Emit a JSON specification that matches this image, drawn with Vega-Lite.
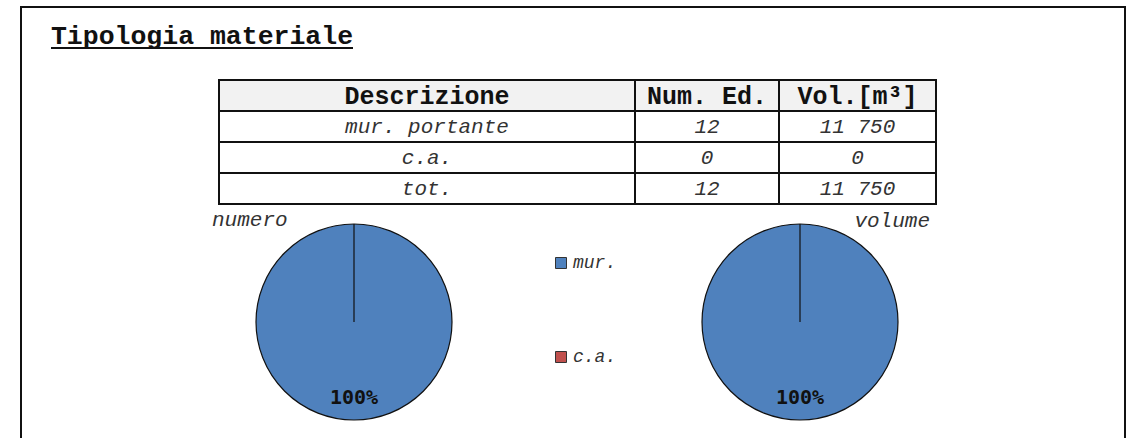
{
  "$schema": "https://vega.github.io/schema/vega-lite/v6.json",
  "padding": {"left": 20, "top": 6, "right": 3, "bottom": 0},
  "background": "white",
  "datasets": {
    "tabella": [
      {"descrizione": "mur. portante", "num": 12, "vol": 11750},
      {"descrizione": "c.a.", "num": 0, "vol": 0},
      {"descrizione": "tot.", "num": 12, "vol": 11750}
    ],
    "torta": [
      {"grafico": "numero", "tipo": "mur.", "valore": 12, "quota": 1},
      {"grafico": "numero", "tipo": "c.a.", "valore": 0, "quota": 0},
      {"grafico": "volume", "tipo": "mur.", "valore": 11750, "quota": 1},
      {"grafico": "volume", "tipo": "c.a.", "valore": 0, "quota": 0}
    ]
  },
  "spacing": 0,
  "resolve": {"scale": {"color": "independent", "theta": "independent"}, "legend": {"color": "independent"}},
  "hconcat": [
    {"width": 2, "height": 432, "data": {"values": [{}]}, "mark": {"type": "rect", "color": "#111"}},
    {
      "spacing": 0,
      "resolve": {"scale": {"color": "independent", "theta": "independent"}, "legend": {"color": "independent"}},
      "vconcat": [
        {"width": 1102, "height": 2, "data": {"values": [{}]}, "mark": {"type": "rect", "color": "#111"}},
        {
          "spacing": 0,
          "hconcat": [
            {"width": 28, "height": 71, "data": {"values": []}, "mark": "rect"},
            {
              "spacing": 0,
              "bounds": "flush",
              "vconcat": [
                {"width": 302, "height": 39, "data": {"values": [{}]},
                 "mark": {"type": "text", "text": "Tipologia materiale", "font": "Liberation Mono", "fontWeight": "bold", "fontSize": 26.5, "baseline": "alphabetic", "dy": 16.5, "color": "#111"}},
                {"width": 302, "height": 2, "data": {"values": [{}]}, "mark": {"type": "rect", "color": "#111"}}
              ]
            }
          ]
        },
        {
          "spacing": 0,
          "bounds": "flush",
          "hconcat": [
            {"width": 197, "height": 126, "data": {"values": []}, "mark": "rect"},
            {
              "width": 416, "height": 124,
              "data": {"name": "tabella"},
              "encoding": {"y": {"field": "descrizione", "type": "nominal", "axis": null, "scale": {"domain": ["intestazione", "mur. portante", "c.a.", "tot."], "paddingInner": 0, "paddingOuter": 0}}},
              "layer": [
                {"mark": {"type": "rect", "fill": "white", "stroke": "#111", "strokeWidth": 2}},
                {"data": {"values": [{}]}, "mark": {"type": "rect", "fill": "#f2f2f2", "stroke": "#111", "strokeWidth": 2}, "encoding": {"y": {"datum": "intestazione", "type": "nominal"}}},
                {"mark": {"type": "text", "font": "Liberation Mono", "fontStyle": "italic", "fontSize": 21, "color": "#333"}, "encoding": {"text": {"field": "descrizione"}}},
                {"data": {"values": [{}]}, "mark": {"type": "text", "text": "Descrizione", "font": "Liberation Mono", "fontWeight": "bold", "fontSize": 25, "color": "#111"}, "encoding": {"y": {"datum": "intestazione", "type": "nominal"}}}
              ]
            },
            {
              "width": 144, "height": 124,
              "data": {"name": "tabella"},
              "encoding": {"y": {"field": "descrizione", "type": "nominal", "axis": null, "scale": {"domain": ["intestazione", "mur. portante", "c.a.", "tot."], "paddingInner": 0, "paddingOuter": 0}}},
              "layer": [
                {"mark": {"type": "rect", "fill": "white", "stroke": "#111", "strokeWidth": 2}},
                {"data": {"values": [{}]}, "mark": {"type": "rect", "fill": "#f2f2f2", "stroke": "#111", "strokeWidth": 2}, "encoding": {"y": {"datum": "intestazione", "type": "nominal"}}},
                {"mark": {"type": "text", "font": "Liberation Mono", "fontStyle": "italic", "fontSize": 21, "color": "#333"}, "encoding": {"text": {"field": "num", "type": "quantitative", "format": "d"}}},
                {"data": {"values": [{}]}, "mark": {"type": "text", "text": "Num. Ed.", "font": "Liberation Mono", "fontWeight": "bold", "fontSize": 25, "color": "#111"}, "encoding": {"y": {"datum": "intestazione", "type": "nominal"}}}
              ]
            },
            {
              "width": 157, "height": 124,
              "data": {"name": "tabella"},
              "encoding": {"y": {"field": "descrizione", "type": "nominal", "axis": null, "scale": {"domain": ["intestazione", "mur. portante", "c.a.", "tot."], "paddingInner": 0, "paddingOuter": 0}}},
              "layer": [
                {"mark": {"type": "rect", "fill": "white", "stroke": "#111", "strokeWidth": 2}},
                {"data": {"values": [{}]}, "mark": {"type": "rect", "fill": "#f2f2f2", "stroke": "#111", "strokeWidth": 2}, "encoding": {"y": {"datum": "intestazione", "type": "nominal"}}},
                {"mark": {"type": "text", "font": "Liberation Mono", "fontStyle": "italic", "fontSize": 21, "color": "#333"}, "encoding": {"text": {"field": "vol", "type": "quantitative", "format": ",d"}}},
                {"data": {"values": [{}]}, "mark": {"type": "text", "text": "Vol.[m³]", "font": "Liberation Mono", "fontWeight": "bold", "fontSize": 25, "color": "#111"}, "encoding": {"y": {"datum": "intestazione", "type": "nominal"}}}
              ]
            }
          ]
        },
        {
          "spacing": 0,
          "bounds": "flush",
          "resolve": {"scale": {"color": "independent", "theta": "independent"}, "legend": {"color": "independent"}},
          "hconcat": [
            {"width": 190, "height": 232, "data": {"values": []}, "mark": "rect"},
            {
              "width": 284, "height": 232,
              "title": {"text": "numero", "anchor": "start", "frame": "group", "font": "Liberation Mono", "fontStyle": "italic", "fontWeight": "normal", "fontSize": 21, "color": "#333", "baseline": "alphabetic", "offset": -41},
              "data": {"name": "torta"},
              "transform": [{"filter": "datum.grafico === 'numero'"}],
              "layer": [
                {
                  "mark": {"type": "arc", "radius": 98, "stroke": "#111", "strokeWidth": 1.2},
                  "encoding": {
                    "theta": {"field": "valore", "type": "quantitative", "stack": true},
                    "color": {"field": "tipo", "type": "nominal",
                      "scale": {"domain": ["mur.", "c.a."], "range": ["#4f81bd", "#c0504d"]},
                      "legend": {"orient": "none", "legendX": 340, "legendY": 48, "title": null, "padding": 0,
                        "symbolType": "square", "symbolSize": 121, "symbolStrokeColor": "#333", "symbolStrokeWidth": 1,
                        "labelFont": "Liberation Mono", "labelFontStyle": "italic", "labelFontSize": 18, "labelColor": "#333",
                        "labelOffset": 3, "rowPadding": 76}},
                    "order": {"field": "tipo", "sort": "descending"}
                  }
                },
                {
                  "transform": [{"filter": "datum.quota > 0"}],
                  "mark": {"type": "text", "radius": 76, "font": "DejaVu Sans Mono", "fontWeight": "bold", "fontSize": 20, "color": "#111"},
                  "encoding": {
                    "theta": {"field": "valore", "type": "quantitative", "stack": true},
                    "text": {"field": "quota", "type": "quantitative", "format": ".0%"}
                  }
                }
              ]
            },
            {"width": 174, "height": 232, "data": {"values": []}, "mark": "rect"},
            {
              "width": 260, "height": 232,
              "title": {"text": "volume", "anchor": "end", "frame": "group", "font": "Liberation Mono", "fontStyle": "italic", "fontWeight": "normal", "fontSize": 21, "color": "#333", "baseline": "alphabetic", "offset": -42},
              "data": {"name": "torta"},
              "transform": [{"filter": "datum.grafico === 'volume'"}],
              "layer": [
                {
                  "mark": {"type": "arc", "radius": 98, "stroke": "#111", "strokeWidth": 1.2},
                  "encoding": {
                    "theta": {"field": "valore", "type": "quantitative", "stack": true},
                    "color": {"field": "tipo", "type": "nominal",
                      "scale": {"domain": ["mur.", "c.a."], "range": ["#4f81bd", "#c0504d"]},
                      "legend": null},
                    "order": {"field": "tipo", "sort": "descending"}
                  }
                },
                {
                  "transform": [{"filter": "datum.quota > 0"}],
                  "mark": {"type": "text", "radius": 76, "font": "DejaVu Sans Mono", "fontWeight": "bold", "fontSize": 20, "color": "#111"},
                  "encoding": {
                    "theta": {"field": "valore", "type": "quantitative", "stack": true},
                    "text": {"field": "quota", "type": "quantitative", "format": ".0%"}
                  }
                }
              ]
            }
          ]
        }
      ]
    },
    {"width": 2, "height": 432, "data": {"values": [{}]}, "mark": {"type": "rect", "color": "#111"}}
  ],
  "config": {
    "view": {"stroke": null},
    "locale": {"number": {"decimal": ",", "thousands": " ", "grouping": [3], "currency": ["€", ""]}}
  }
}
